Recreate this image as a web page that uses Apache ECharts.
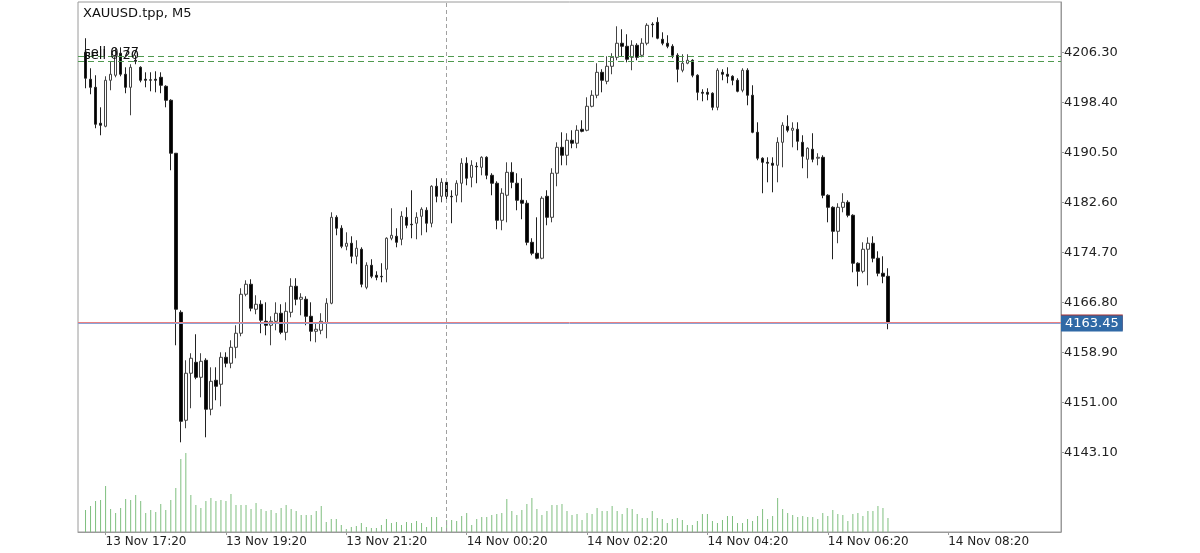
<!DOCTYPE html>
<html>
<head>
<meta charset="utf-8">
<style>
  html, body { margin: 0; padding: 0; background: #fff; }
  #chart { width: 1200px; height: 553px; }
</style>
<script src="https://cdn.jsdelivr.net/npm/echarts@6/dist/echarts.min.js"></script>
</head>
<body>
<div id="chart"></div>
<script>
// ---- data (XAUUSD.tpp, M5) ----
const symbolTitle = 'XAUUSD.tpp, M5';
const opens = [4206.30,4202.04,4200.77,4195.09,4194.61,4201.88,4202.67,4206.15,4202.83,4200.77,
4205.04,4203.93,4202.04,4201.95,4202.04,4202.35,4200.93,4198.72,4190.35,4165.22,
4148.16,4155.59,4157.32,4154.95,4157.64,4149.90,4154.48,4153.85,4158.11,4157.17,
4159.69,4161.91,4168.07,4169.65,4165.70,4166.49,4163.80,4163.17,4163.80,4165.07,
4162.06,4165.22,4169.33,4167.28,4167.28,4164.59,4162.22,4162.38,4163.49,4166.65,
4180.23,4178.50,4175.65,4176.13,4174.07,4175.18,4169.17,4172.65,4171.07,4170.91,
4172.02,4176.92,4177.23,4176.76,4180.23,4179.13,4179.29,4180.39,4181.34,4179.29,
4185.13,4183.55,4185.76,4183.55,4183.71,4185.61,4188.77,4186.55,4188.29,4188.13,
4189.71,4186.87,4185.61,4179.76,4183.71,4187.34,4185.61,4182.92,4182.45,4176.28,
4174.55,4173.76,4183.55,4180.23,4187.19,4191.29,4190.03,4192.40,4191.93,4194.14,
4193.98,4197.77,4199.51,4203.14,4201.72,4204.09,4205.51,4207.73,4207.25,4205.51,
4207.41,4205.83,4207.73,4210.73,4211.04,4208.36,4207.73,4207.25,4205.83,4203.46,
4204.57,4205.04,4202.67,4199.98,4199.98,4199.83,4197.61,4203.14,4202.83,4202.51,
4201.88,4200.30,4203.46,4199.51,4193.66,4189.56,4188.92,4188.77,4188.45,4192.08,
4194.61,4193.98,4194.14,4192.08,4189.40,4190.98,4189.56,4189.71,4183.71,4181.81,
4178.02,4181.81,4182.60,4180.55,4172.97,4171.70,4175.18,4176.13,4173.76,4171.39,
4170.91];
const closes = [4202.20,4200.77,4194.93,4194.77,4201.88,4202.83,4205.67,4202.83,4200.77,4203.93,
4204.88,4201.88,4201.88,4201.90,4201.88,4201.09,4198.72,4190.35,4165.70,4148.00,
4155.59,4157.96,4154.95,4157.48,4149.90,4154.32,4153.53,4158.11,4157.17,4159.69,
4161.91,4168.07,4169.65,4165.86,4166.49,4163.96,4163.17,4163.80,4165.07,4162.06,
4165.38,4169.33,4167.28,4167.59,4164.59,4162.22,4162.54,4163.80,4166.65,4180.23,
4178.50,4175.65,4176.13,4174.07,4175.34,4169.65,4172.65,4170.91,4170.75,4170.83,
4176.92,4177.39,4176.28,4180.39,4178.97,4179.05,4180.23,4181.50,4179.29,4185.13,
4183.55,4185.76,4183.55,4183.47,4185.61,4188.77,4186.40,4188.45,4188.21,4189.71,
4186.87,4185.61,4179.76,4184.03,4187.34,4185.76,4182.92,4182.45,4176.28,4174.55,
4173.76,4183.24,4180.23,4187.19,4191.29,4190.03,4192.40,4191.93,4193.98,4193.82,
4197.77,4199.51,4203.14,4201.88,4204.09,4205.51,4207.73,4207.25,4205.20,4207.41,
4205.51,4207.73,4210.57,4210.65,4208.52,4207.73,4207.25,4205.83,4203.62,4204.57,
4205.04,4202.67,4199.98,4199.83,4199.67,4197.61,4203.46,4202.83,4202.51,4201.88,
4200.14,4203.46,4199.51,4193.66,4189.56,4188.92,4188.77,4188.45,4192.08,4194.77,
4193.98,4194.30,4192.24,4189.87,4191.14,4189.40,4189.71,4183.71,4181.81,4178.02,
4181.81,4182.60,4180.55,4172.97,4171.70,4175.18,4176.13,4173.76,4171.39,4170.91,
4163.45];
const lows = [4200.62,4199.67,4194.30,4193.19,4194.45,4200.30,4202.35,4202.51,4199.83,4196.35,
4204.41,4201.56,4200.77,4200.14,4199.98,4199.83,4197.61,4187.66,4160.01,4144.68,
4146.90,4150.06,4154.64,4151.79,4145.47,4148.95,4151.32,4150.37,4156.53,4156.38,
4157.96,4161.43,4167.75,4165.38,4164.91,4161.91,4161.59,4160.01,4162.38,4161.75,
4160.80,4164.43,4166.33,4164.75,4163.17,4160.64,4160.48,4161.75,4161.12,4166.49,
4177.39,4175.34,4175.02,4172.97,4172.81,4169.17,4168.86,4170.60,4170.28,4169.96,
4169.96,4176.60,4175.49,4175.81,4178.50,4176.92,4176.76,4177.39,4177.86,4178.65,
4182.60,4182.60,4182.60,4179.29,4182.60,4182.60,4185.29,4184.97,4185.61,4186.87,
4186.24,4183.71,4178.34,4178.18,4179.44,4184.82,4181.34,4179.92,4175.81,4174.23,
4173.60,4173.60,4178.97,4179.44,4185.13,4188.45,4188.45,4191.14,4191.14,4193.66,
4193.82,4197.61,4199.04,4199.98,4201.25,4202.83,4205.04,4205.67,4204.72,4203.46,
4205.04,4205.51,4207.41,4208.67,4208.36,4207.41,4206.94,4205.36,4201.56,4203.14,
4204.41,4202.35,4198.72,4198.56,4198.72,4197.14,4197.14,4201.88,4201.41,4201.09,
4199.98,4199.98,4197.93,4193.51,4189.24,4184.03,4185.76,4184.18,4185.76,4188.13,
4193.66,4191.29,4190.82,4187.98,4186.40,4188.92,4188.45,4183.24,4179.44,4173.60,
4176.13,4181.02,4180.23,4171.54,4169.33,4171.39,4169.49,4173.12,4170.91,4169.81,
4162.54];
const highs = [4208.52,4203.78,4202.67,4197.61,4202.51,4204.88,4206.94,4207.09,4203.93,4204.41,
4205.83,4204.09,4203.14,4203.14,4203.30,4203.14,4201.09,4198.88,4190.35,4165.54,
4157.64,4158.75,4161.75,4158.75,4157.96,4156.53,4156.53,4158.90,4158.90,4160.80,
4163.17,4169.02,4170.28,4170.44,4167.91,4167.12,4166.80,4164.59,4166.80,4166.49,
4166.80,4170.60,4170.60,4168.23,4167.75,4166.80,4163.49,4165.07,4167.44,4181.02,
4180.55,4178.97,4177.86,4177.23,4176.60,4175.49,4173.12,4173.60,4171.70,4172.97,
4177.07,4181.66,4178.50,4181.18,4181.81,4184.50,4181.02,4181.81,4181.81,4185.29,
4186.40,4186.40,4185.92,4184.50,4186.08,4189.56,4189.71,4189.24,4188.92,4189.87,
4189.87,4187.19,4185.92,4184.82,4188.92,4188.92,4187.19,4186.40,4182.92,4176.92,
4180.23,4183.55,4184.50,4187.98,4192.08,4193.66,4193.51,4193.98,4194.77,4195.56,
4199.19,4200.30,4204.57,4203.62,4205.67,4206.15,4210.41,4209.94,4209.15,4208.20,
4207.73,4208.52,4210.89,4211.04,4211.83,4209.46,4208.99,4207.57,4206.15,4205.99,
4205.99,4205.20,4202.83,4200.46,4200.62,4199.98,4203.78,4203.62,4203.93,4202.67,
4202.20,4203.78,4203.78,4201.09,4195.24,4189.71,4189.71,4189.71,4192.87,4195.24,
4196.35,4195.24,4195.24,4193.19,4191.29,4193.51,4190.35,4190.03,4183.87,4181.97,
4182.45,4184.03,4182.92,4180.71,4173.12,4176.28,4177.07,4177.23,4174.86,4174.07,
4172.18];
const volumes = [220,260,310,320,460,230,190,240,330,320,
370,310,190,220,200,280,220,320,440,730,
790,370,270,240,310,340,310,320,310,380,
270,270,270,230,290,230,210,220,190,240,
270,230,210,170,170,170,210,260,100,130,
130,70,30,50,60,90,50,40,40,70,
130,90,100,70,100,90,110,90,50,150,
150,50,120,120,110,160,190,70,130,150,
150,170,180,190,330,210,170,220,280,340,
230,170,210,270,270,280,210,170,180,120,
190,180,240,210,210,260,210,180,240,230,
180,140,140,210,140,130,90,130,140,120,
70,70,110,180,180,110,90,120,160,160,
90,90,130,110,160,230,130,160,340,230,
190,170,150,160,150,150,130,190,160,220,
180,170,110,180,190,160,210,210,260,240,
140];
const yTicks = [4143.10,4151.00,4158.90,4166.80,4174.70,4182.60,4190.50,4198.40,4206.30];
const xTickLabels = ['13 Nov 17:20','13 Nov 19:20','13 Nov 21:20','14 Nov 00:20',
                     '14 Nov 02:20','14 Nov 04:20','14 Nov 06:20','14 Nov 08:20'];
const sellLevels = [4205.67, 4204.88];
const sellLabels = ['sell 0.77', 'sell 0.20'];
const bidPrice = 4163.45;
const askPrice = 4163.61;
const daySeparator = '14 Nov 00:00';

// ---- category axis: 5-minute bars, with the 23:00-00:00 break ----
function barTime(i) {
  // i = bar index; bar 0 = 13 Nov 17:00; bars 72+ start at 14 Nov 00:00
  let day, mins;
  if (i < 72) { day = 13; mins = 17 * 60 + 5 * i; }
  else { day = 14; mins = 5 * (i - 72); }
  const h = Math.floor(mins / 60), m = mins % 60;
  return day + ' Nov ' + String(h).padStart(2, '0') + ':' + String(m).padStart(2, '0');
}
const categories = [];
for (let i = -1; i < 195; i++) categories.push(barTime(i));

const candleData = opens.map((o, i) => [i + 1, o, closes[i], lows[i], highs[i]]);
const volumeData = volumes.map((v, i) => [i + 1, v]);

const FONT = 'DejaVu Sans';
const isTick = (idx, val) => xTickLabels.indexOf(val) >= 0;

const chart = echarts.init(document.getElementById('chart'), null, { renderer: 'canvas' });
chart.setOption({
  animation: false,
  backgroundColor: '#fff',
  title: {
    text: symbolTitle, left: 83, top: 7, padding: 0,
    textStyle: { fontFamily: FONT, fontSize: 13, fontWeight: 'normal', color: '#111' }
  },
  grid: { left: 78, top: 2, width: 983, height: 530, show: true, borderColor: '#9a9a9a', borderWidth: 1, backgroundColor: '#fff' },
  xAxis: {
    type: 'category', data: categories, boundaryGap: true,
    axisLine: { lineStyle: { color: '#9a9a9a' } },
    axisTick: { show: true, interval: isTick, alignWithLabel: true, length: 3, lineStyle: { color: '#9a9a9a' } },
    axisLabel: { interval: isTick, align: 'left', margin: 4, fontFamily: FONT, fontSize: 12, color: '#222' },
    splitLine: { show: false }
  },
  yAxis: [
    {
      type: 'value', position: 'right', min: 4130.507, max: 4214.247, scale: true,
      axisLine: { show: true, lineStyle: { color: '#9a9a9a' } },
      axisTick: { show: true, length: 3, customValues: yTicks, lineStyle: { color: '#9a9a9a' } },
      axisLabel: { customValues: yTicks, margin: 3, fontFamily: FONT, fontSize: 13, color: '#222',
                   formatter: v => v.toFixed(2) },
      splitLine: { show: false }
    },
    { type: 'value', min: 0, max: 5300, show: false, splitLine: { show: false } }
  ],
  series: [
    {
      type: 'bar', name: 'volume', yAxisIndex: 1, data: volumeData, encode: { x: 0, y: 1 },
      barWidth: 1, itemStyle: { color: '#7fbf7f' }, silent: true, z: 1
    },
    {
      type: 'candlestick', name: 'XAUUSD', data: candleData, encode: { x: 0, y: [1, 2, 3, 4] },
      barWidth: 3,
      itemStyle: { color: '#ffffff', color0: '#000000', borderColor: '#444', borderColor0: '#222', borderWidth: 1 },
      z: 3,
      markLine: {
        silent: true, symbol: ['none', 'none'], animation: false,
        data: [
          { xAxis: daySeparator, lineStyle: { color: '#a0a0a0', type: [4, 3], width: 1 }, label: { show: false } },
          { yAxis: sellLevels[0], lineStyle: { color: '#4f9a4f', type: [6, 4], width: 1 },
            label: { show: true, position: 'insideStartTop', distance: [6, -3], formatter: sellLabels[0],
                     fontFamily: FONT, fontSize: 13, color: '#111' } },
          { yAxis: sellLevels[1], lineStyle: { color: '#4f9a4f', type: [6, 4], width: 1 },
            label: { show: true, position: 'insideStartTop', distance: [6, -1], formatter: sellLabels[1],
                     fontFamily: FONT, fontSize: 13, color: '#111' } }
        ]
      }
    },
    {
      // current price lines (ask / bid) with their price tags on the right scale
      type: 'line', name: 'price', data: [], yAxisIndex: 0, z: 5, silent: true,
      markLine: {
        silent: true, symbol: ['none', 'none'], animation: false,
        data: [
          { yAxis: askPrice, lineStyle: { color: '#ea8080', type: 'solid', width: 1, opacity: 1 },
            label: { show: true, position: 'end', distance: 0, formatter: askPrice.toFixed(2),
                     backgroundColor: '#a83030', color: '#fff', padding: [1, 4, 1, 4], lineHeight: 14,
                     fontFamily: FONT, fontSize: 13 } },
          { yAxis: bidPrice, lineStyle: { color: '#8aa3d6', type: 'solid', width: 1, opacity: 1 },
            label: { show: true, position: 'end', distance: 0, formatter: bidPrice.toFixed(2),
                     backgroundColor: '#2f69a6', color: '#fff', padding: [1, 4, 1, 4], lineHeight: 14,
                     fontFamily: FONT, fontSize: 13 } }
        ]
      }
    }
  ]
});
</script>
</body>
</html>
